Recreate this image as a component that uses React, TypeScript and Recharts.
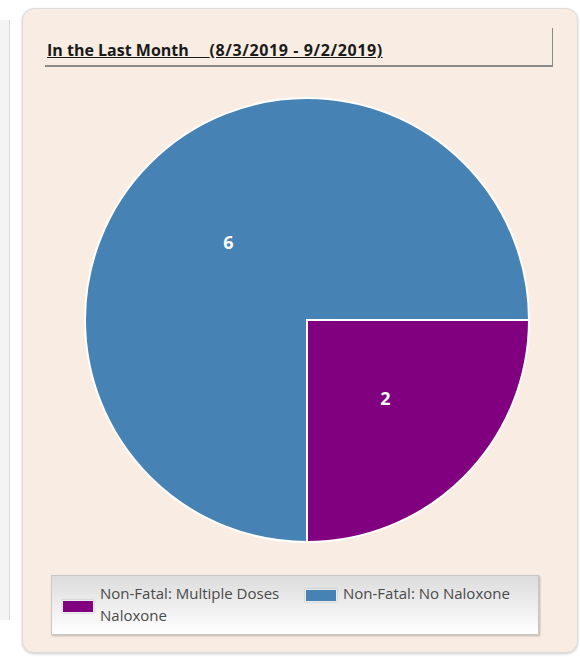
import { PieChart, Pie, Cell, Legend } from "recharts";

const categories = ["Non-Fatal: Multiple Doses Naloxone", "Non-Fatal: No Naloxone"];
const counts = [2, 6];
const colors = ["#800080", "#4682b4"];

const chartData = categories.map((name, i) => ({ name, value: counts[i] }));

const RADIAN = Math.PI / 180;

function SliceLabel(props: any) {
  const { cx, cy, midAngle, outerRadius, value } = props;
  const r = outerRadius * 0.5;
  const x = cx + r * Math.cos(-midAngle * RADIAN);
  const y = cy + r * Math.sin(-midAngle * RADIAN);
  return (
    <text x={x} y={y} fill="#ffffff" textAnchor="middle" dominantBaseline="central"
      style={{ fontSize: 18, fontWeight: 700, fontFamily: "Open Sans, sans-serif" }}>
      {value}
    </text>
  );
}

function LegendBox({ payload }: any) {
  const items = payload || [];
  return (
    <div style={{
      width: 488, height: 60, boxSizing: "border-box",
      border: "1px solid #c8c8c8", boxShadow: "1px 1px 2px rgba(0,0,0,0.25)",
      background: "linear-gradient(#dcdcdc, #ffffff)", position: "relative",
      fontFamily: "Open Sans, sans-serif", fontSize: 15, color: "#4a4a4a",
    }}>
      {items.map((it: any, i: number) => (
        <div key={it.value} style={{ position: "absolute", left: i === 0 ? 10 : 253, top: 6, display: "flex" }}>
          <span style={{
            width: 30, height: 11, background: it.color, marginTop: i === 0 ? 18 : 7, marginRight: 6,
            border: "1px solid #ececec", boxShadow: "0 0 1px rgba(0,0,0,0.4)", flexShrink: 0,
          }} />
          <span style={{ width: i === 0 ? 200 : 210, lineHeight: "22px" }}>{it.value}</span>
        </div>
      ))}
    </div>
  );
}

export default function App() {
  return (
    <div style={{ position: "absolute", left: 0, top: 0, width: 580, height: 657, background: "#ffffff", overflow: "hidden" }}>
      <div style={{ position: "absolute", left: 0, top: 20, width: 9, height: 600, borderRight: "1px solid #d8d8d8", background: "#f4f4f4" }} />
      <div style={{
        position: "absolute", left: 22, top: 8, width: 556, height: 645, boxSizing: "border-box",
        background: "#f9ede3", border: "1px solid #dcdcdc", borderRadius: 12,
        boxShadow: "0 1px 3px rgba(0,0,0,0.2)",
      }} />
      <div style={{
        position: "absolute", left: 45, top: 28, width: 508, height: 39, boxSizing: "border-box",
        borderRight: "1px solid #8a8a8a", borderBottom: "2px solid #8a8a8a",
        fontFamily: "Open Sans, sans-serif", fontSize: 16, fontWeight: 700, color: "#1a1a1a",
      }}>
        <span style={{ position: "absolute", left: 2, top: 12, lineHeight: "20px", whiteSpace: "pre", textDecoration: "underline" }}>
          {"In the Last Month     "}
          <span style={{ letterSpacing: 0.6 }}>(8/3/2019 - 9/2/2019)</span>
        </span>
      </div>
      <div style={{ position: "absolute", left: 0, top: 0 }}>
        <PieChart width={580} height={657} margin={{ top: 0, right: 0, bottom: 0, left: 0 }}>
          <Pie
            data={chartData}
            dataKey="value"
            nameKey="name"
            cx={307}
            cy={320}
            outerRadius={222}
            startAngle={0}
            endAngle={-360}
            stroke="#ffffff"
            strokeWidth={2}
            label={SliceLabel}
            labelLine={false}
            isAnimationActive={false}
          >
            {chartData.map((d, i) => (
              <Cell key={d.name} fill={colors[i]} />
            ))}
          </Pie>
          <Legend
            content={<LegendBox />}
            wrapperStyle={{ position: "absolute", left: 51, top: 575, width: 488, height: 60 }}
          />
        </PieChart>
      </div>
    </div>
  );
}
